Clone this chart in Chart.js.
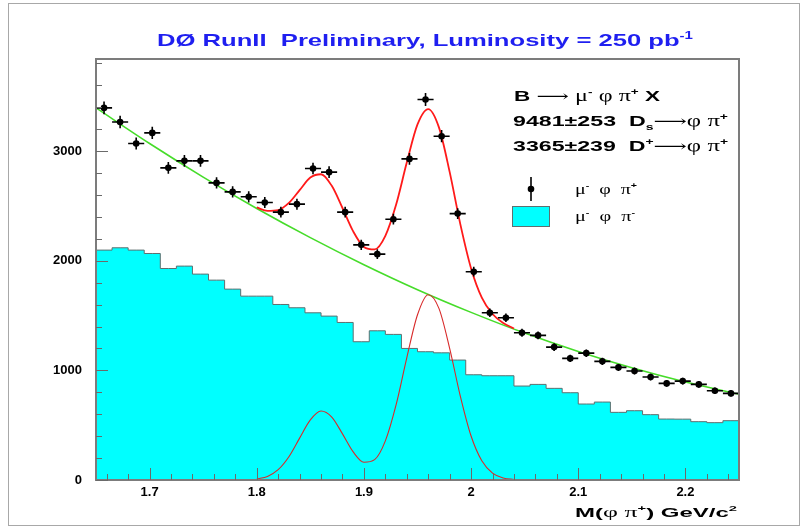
<!DOCTYPE html>
<html>
<head>
<meta charset="utf-8">
<script src="https://cdn.jsdelivr.net/npm/chart.js@4.4.1/dist/chart.umd.min.js"></script>
<style>
  html, body { margin: 0; padding: 0; background: #fff; }
  canvas { display: block; }
</style>
</head>
<body>
<canvas id="c" width="803" height="529"></canvas>
<script>
// M(phi pi) bin centres, GeV/c^2 (bin width 15 MeV)
const binCentres = [
  1.6575, 1.6725, 1.6875, 1.7025, 1.7175, 1.7325, 1.7475, 1.7625, 1.7775, 1.7925,
  1.8075, 1.8225, 1.8375, 1.8525, 1.8675, 1.8825, 1.8975, 1.9125, 1.9275, 1.9425,
  1.9575, 1.9725, 1.9875, 2.0025, 2.0175, 2.0325, 2.0475, 2.0625, 2.0775, 2.0925,
  2.1075, 2.1225, 2.1375, 2.1525, 2.1675, 2.1825, 2.1975, 2.2125, 2.2275, 2.2425
];
const binHalfWidth = 0.0075;

// mu- phi pi+ candidates (right-sign), with errors
const rightSign = [
  3394, 3266, 3069, 3166, 2847, 2911, 2911, 2710, 2628, 2583,
  2531, 2443, 2516, 2841, 2808, 2443, 2145, 2060, 2379, 2929,
  3470, 3136, 2430, 1900, 1525, 1480, 1343, 1319, 1212, 1109,
  1157, 1082, 1027,  994,  939,  881,  902,  872,  814,  790
];
const rightSignErr = [
  58, 57, 55, 56, 53, 54, 54, 52, 51, 51,
  50, 49, 50, 53, 53, 49, 46, 45, 49, 54,
  59, 56, 49, 44, 39, 38, 37, 36, 35, 33,
  34, 33, 32, 32, 31, 30, 30, 30, 29, 28
];

// mu- phi pi- candidates (wrong-sign), filled histogram
const wrongSign = [
  2097, 2118, 2097, 2066, 1929, 1951, 1878, 1823, 1741, 1677,
  1677, 1601, 1571, 1525, 1495, 1437, 1261, 1361, 1328, 1200,
  1170, 1160, 1094,  960,  951,  951,  857,  872,  836,  796,
   693,  711,  617,  632,  596,  556,  555,  532,  523,  541
];

// combinatorial background of the fit
const bkgMass = [1.65, 1.70, 1.75, 1.80, 1.85, 1.90, 1.95, 2.00, 2.05, 2.10, 2.15, 2.20, 2.25];
const bkgFit  = [3394, 3069, 2763, 2477, 2211, 1964, 1736, 1529, 1340, 1172, 1023,  893,  783];

// full fit (background + D+ + Ds) and the signal part alone
const fitMass = [
  1.80, 1.81, 1.82, 1.83, 1.84, 1.85, 1.86, 1.87, 1.88, 1.89,
  1.90, 1.91, 1.92, 1.93, 1.94, 1.95, 1.96, 1.97, 1.98, 1.99,
  2.00, 2.01, 2.02, 2.03, 2.04
];
const totalFit = [
  2486, 2455, 2462, 2527, 2644, 2759, 2789, 2683, 2481, 2268,
  2126, 2103, 2227, 2510, 2895, 3243, 3383, 3216, 2810, 2332,
  1930, 1664, 1514, 1432, 1382
];
const signalFit = [
     9,   33,   94,  212,  382,  548,  629,  574,  421,  256,
   162,  186,  357,  685, 1115, 1507, 1690, 1565, 1201,  763,
   401,  175,   63,   19,    5
];

const xTickValues = [1.7, 1.8, 1.9, 2.0, 2.1, 2.2];
const yTickValues = [0, 1000, 2000, 3000];

const toXY = (xs, ys) => xs.map((x, i) => ({ x, y: ys[i] }));

// step outline: pad with the outer bin edges
const histPoints = [{ x: 1.65, y: wrongSign[0] }]
  .concat(toXY(binCentres, wrongSign))
  .concat([{ x: 2.25, y: wrongSign[wrongSign.length - 1] }]);

const SANS = '"Liberation Sans", Arial, sans-serif';
const SERIF = '"Liberation Serif", "DejaVu Serif", serif';

// draws a run of text pieces [text, font, dy], optionally stretched to a width
function richText(ctx, x, y, parts, opts) {
  let w = 0;
  for (const p of parts) { ctx.font = p[1]; w += ctx.measureText(p[0]).width; }
  const sx = opts.width ? opts.width / w : 1;
  let x0 = x;
  if (opts.align === 'right') x0 = x - w * sx;
  else if (opts.align === 'center') x0 = x - w * sx / 2;
  ctx.save();
  ctx.translate(x0, y);
  ctx.scale(sx, 1);
  ctx.textBaseline = 'alphabetic';
  ctx.textAlign = 'left';
  let cx = 0;
  for (const p of parts) {
    ctx.font = p[1];
    ctx.fillStyle = opts.color || '#000';
    ctx.fillText(p[0], cx, p[2] || 0);
    cx += ctx.measureText(p[0]).width;
  }
  ctx.restore();
}

const decorations = {
  id: 'decorations',
  beforeDatasetDraw(chart, args) {
    if (args.index !== 0) return;
    // error bars of the right-sign points, under their markers
    const { ctx, scales: { x, y } } = chart;
    ctx.save();
    ctx.strokeStyle = '#000';
    ctx.lineWidth = 1.6;
    rightSign.forEach((v, i) => {
      const px = x.getPixelForValue(binCentres[i]);
      const py = y.getPixelForValue(v);
      const xl = x.getPixelForValue(binCentres[i] - binHalfWidth);
      const xr = x.getPixelForValue(binCentres[i] + binHalfWidth);
      const yt = y.getPixelForValue(v + rightSignErr[i]);
      const yb = y.getPixelForValue(v - rightSignErr[i]);
      ctx.beginPath();
      ctx.moveTo(xl, py); ctx.lineTo(xr, py);
      ctx.moveTo(px, yt); ctx.lineTo(px, yb);
      ctx.stroke();
    });
    ctx.restore();
  },
  afterDraw(chart) {
    const { ctx, chartArea: a, scales: { x, y } } = chart;
    ctx.save();

    // outer border
    ctx.strokeStyle = '#a8a8a8';
    ctx.lineWidth = 1;
    ctx.strokeRect(8.5, 3.5, 791, 522);

    // frame of the plot
    ctx.strokeStyle = '#7c7c7c';
    ctx.lineWidth = 2;
    ctx.strokeRect(a.left, a.top, a.right - a.left, a.bottom - a.top);

    // inward ticks on the y axis
    ctx.lineWidth = 1;
    ctx.strokeStyle = '#6a6a6a';
    ctx.beginPath();
    for (let v = 0; v <= 3800; v += 200) {
      const py = Math.round(y.getPixelForValue(v)) + 0.5;
      const len = v % 1000 === 0 ? 12 : 6;
      ctx.moveTo(a.left, py); ctx.lineTo(a.left + len, py);
    }
    // inward ticks on the x axis
    for (let k = 83; k <= 112; k++) {
      const v = k * 0.02;
      if (v < 1.65 || v > 2.25) continue;
      const px = Math.round(x.getPixelForValue(v)) + 0.5;
      const major = k % 5 === 0;
      ctx.moveTo(px, a.bottom); ctx.lineTo(px, a.bottom - (major ? 12 : 6));
    }
    ctx.stroke();

    // title
    richText(ctx, 157, 46, [
      ['DØ RunII  Preliminary, Luminosity = 250 pb', 'bold 17px ' + SANS],
      ['-1', 'bold 10px ' + SANS, -7]
    ], { width: 536, color: '#1f1ff0' });

    const B = 'bold 15px ' + SANS;
    const G = '16px ' + SERIF;
    const S = 'bold 9px ' + SANS;
    const A = '15px ' + SERIF;

    richText(ctx, 514, 101, [
      ['B', B], [' ', B], ['⟶', A], [' ', B], ['μ', G], ['-', S, -6], [' ', B],
      ['φ', G], [' ', B], ['π', G], ['+', S, -6], [' ', B], ['X', B]
    ], { width: 146 });
    richText(ctx, 513, 126, [
      ['9481±253', B], ['  ', B], ['D', B], ['s', S, 4], ['⟶', A], ['φ', G], [' ', B],
      ['π', G], ['+', S, -6]
    ], { width: 215 });
    richText(ctx, 513, 151, [
      ['3365±239', B], ['  ', B], ['D', B], ['+', S, -6], ['⟶', A], ['φ', G], [' ', B],
      ['π', G], ['+', S, -6]
    ], { width: 215 });

    // legend: right-sign marker
    const lx = 531, ly = 189;
    ctx.strokeStyle = '#000';
    ctx.lineWidth = 1.6;
    ctx.beginPath();
    ctx.moveTo(lx, ly - 12); ctx.lineTo(lx, ly + 12);
    ctx.stroke();
    ctx.fillStyle = '#000';
    ctx.beginPath(); ctx.arc(lx, ly, 3.3, 0, Math.PI * 2); ctx.fill();
    // legend: wrong-sign box
    ctx.fillStyle = '#00ffff';
    ctx.fillRect(512, 206, 38, 20);
    ctx.strokeStyle = '#5f6f6f';
    ctx.lineWidth = 1;
    ctx.strokeRect(512.5, 206.5, 37, 20);

    const LG = '15px ' + SERIF;
    const LS = 'bold 8px ' + SANS;
    richText(ctx, 575, 194, [
      ['μ', LG], ['-', LS, -6], ['  ', LG], ['φ', LG], ['  ', LG], ['π', LG], ['+', LS, -6]
    ], { width: 62 });
    richText(ctx, 575, 221, [
      ['μ', LG], ['-', LS, -6], ['  ', LG], ['φ', LG], ['  ', LG], ['π', LG], ['-', LS, -6]
    ], { width: 60 });

    // x axis title
    const T = 'bold 13px ' + SANS;
    const TG = '14px ' + SERIF;
    const TS = 'bold 8px ' + SANS;
    richText(ctx, 737, 517, [
      ['M(', T], ['φ', TG], [' ', T], ['π', TG], ['+', TS, -6], [') GeV/c', T], ['2', TS, -6]
    ], { align: 'right', width: 162 });

    ctx.restore();
  }
};

new Chart(document.getElementById('c'), {
  type: 'scatter',
  data: {
    datasets: [
      {
        label: 'μ- φ π+',
        data: toXY(binCentres, rightSign),
        pointRadius: 3.3,
        pointBackgroundColor: '#000',
        pointBorderColor: '#000',
        pointBorderWidth: 0,
        showLine: false
      },
      {
        label: 'fit',
        data: toXY(fitMass, totalFit),
        showLine: true,
        borderColor: '#ff1a1a',
        borderWidth: 1.8,
        pointRadius: 0,
        cubicInterpolationMode: 'monotone'
      },
      {
        label: 'signal',
        data: toXY(fitMass, signalFit),
        showLine: true,
        borderColor: '#d82a2a',
        borderWidth: 1.1,
        pointRadius: 0,
        cubicInterpolationMode: 'monotone'
      },
      {
        label: 'background',
        data: toXY(bkgMass, bkgFit),
        showLine: true,
        borderColor: '#46dc2a',
        borderWidth: 1.6,
        pointRadius: 0,
        cubicInterpolationMode: 'monotone'
      },
      {
        type: 'line',
        label: 'μ- φ π-',
        data: histPoints,
        stepped: 'middle',
        fill: 'origin',
        backgroundColor: '#00ffff',
        borderColor: '#5f6f6f',
        borderWidth: 1,
        pointRadius: 0
      }
    ]
  },
  options: {
    responsive: false,
    animation: false,
    devicePixelRatio: 1,
    layout: { padding: { left: 0, right: 64, top: 59, bottom: 0 } },
    plugins: { legend: { display: false }, tooltip: { enabled: false }, title: { display: false } },
    scales: {
      x: {
        type: 'linear',
        min: 1.65,
        max: 2.25,
        grid: { display: false, drawTicks: false },
        border: { display: false },
        afterBuildTicks: s => { s.ticks = xTickValues.map(v => ({ value: v })); },
        afterFit: s => { s.height = 49; },
        ticks: {
          padding: 5,
          maxRotation: 0,
          color: '#000',
          font: { family: SANS, size: 13, weight: 'bold' },
          callback: v => (Math.abs(v - 2) < 1e-9 ? '2' : v.toFixed(1))
        }
      },
      y: {
        min: 0,
        max: 3840,
        grid: { display: false, drawTicks: false },
        border: { display: false },
        afterBuildTicks: s => { s.ticks = yTickValues.map(v => ({ value: v })); },
        afterFit: s => { s.width = 96; },
        ticks: {
          padding: 14,
          color: '#000',
          font: { family: SANS, size: 13, weight: 'bold' },
          callback: v => String(v)
        }
      }
    }
  },
  plugins: [decorations]
});
</script>
</body>
</html>
